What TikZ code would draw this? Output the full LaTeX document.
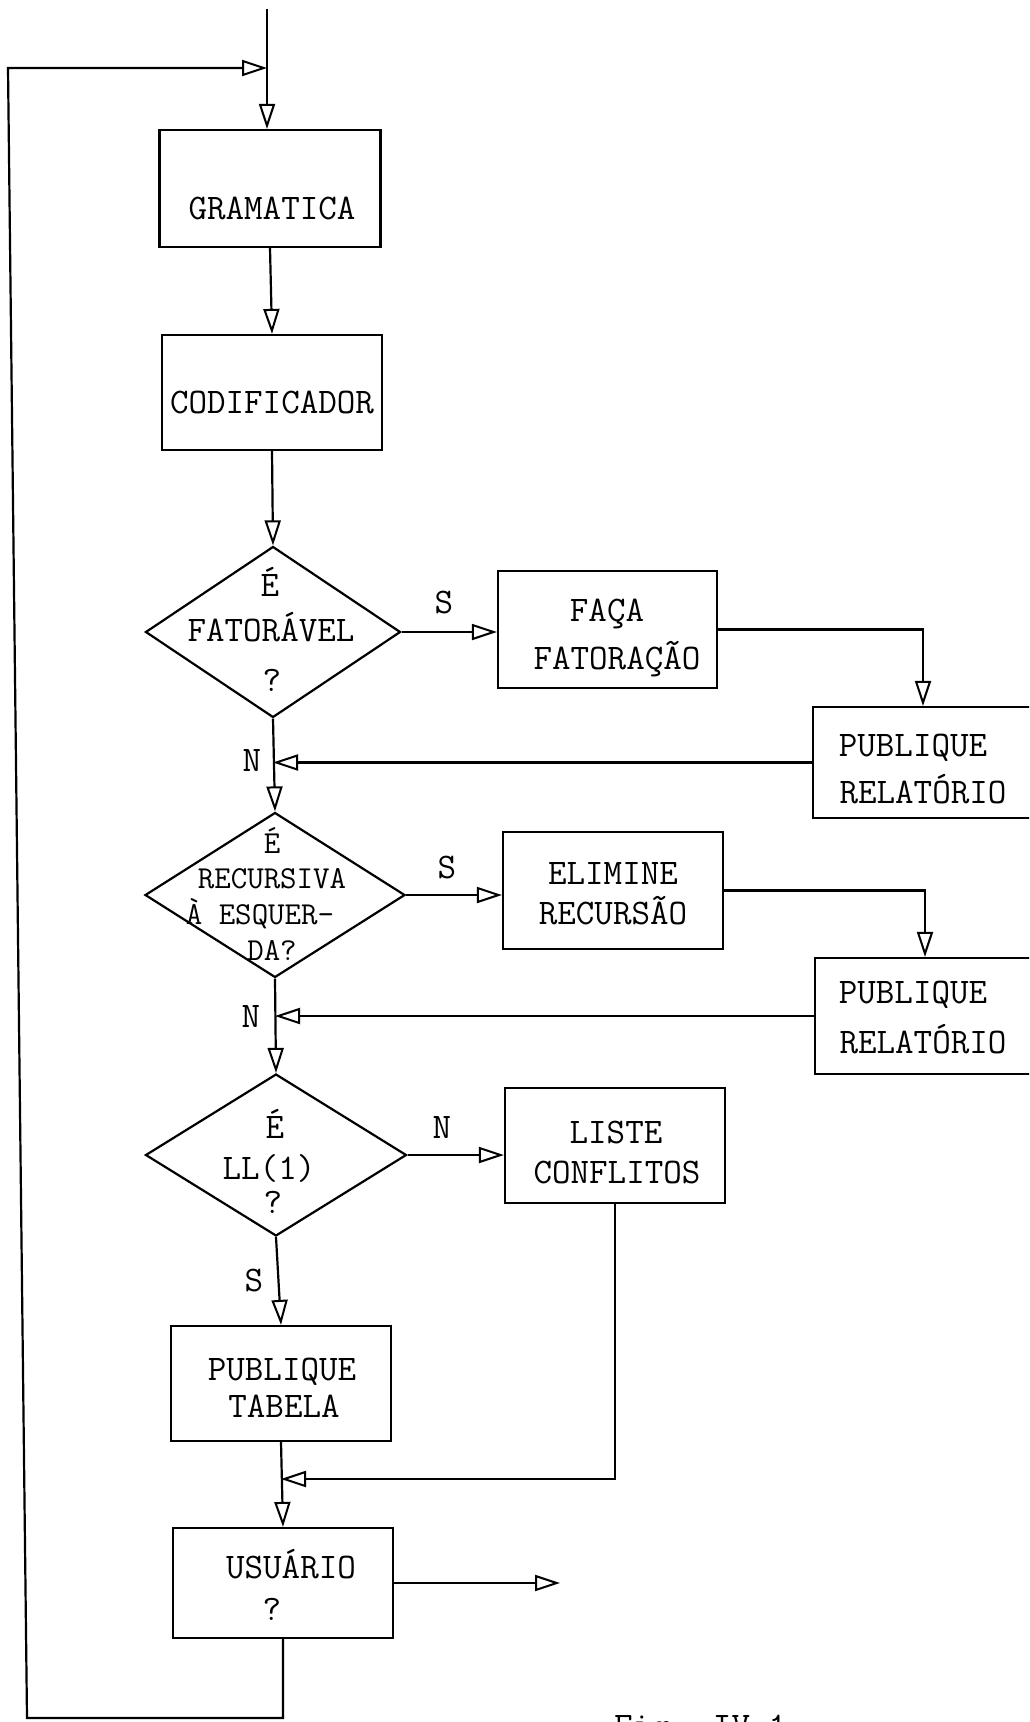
\documentclass[tikz,border=0pt]{standalone}
\usetikzlibrary{arrows.meta,shapes.geometric}
\begin{document}
\begin{tikzpicture}[x=1pt,y=-1pt,
  line width=2.2pt,
  box/.style={draw, rectangle, inner sep=0pt, line width=2.2pt},
  dec/.style={draw, diamond, inner sep=0pt, line width=2.2pt},
  txt/.style={inner sep=0pt, font=\fontsize{36}{40}\selectfont\ttfamily, text height=22pt, text depth=0pt},
  stxt/.style={txt, font=\fontsize{32}{36}\selectfont\ttfamily, text height=19.5pt},
  flow/.style={-{Triangle[open,length=25pt,width=16pt,line width=2pt]}}
]
\clip (0,0) rectangle (1029,1722);
\fill[white] (0,0) rectangle (1029,1722);

% boxes
\node[box, minimum width=221pt, minimum height=117pt] (gram) at (270,188.5) {};
\node[box, minimum width=220pt, minimum height=115pt] (cod) at (272,392.5) {};
\node[dec, minimum width=255pt, minimum height=171pt] (d1) at (273,632) {};
\node[box, minimum width=219pt, minimum height=117pt] (faca) at (607.5,629.5) {};
\node[box, minimum width=220pt, minimum height=111pt] (pub1) at (923,762.5) {};
\node[dec, minimum width=260pt, minimum height=165pt] (d2) at (275,895) {};
\node[box, minimum width=220pt, minimum height=117pt] (elim) at (613,890.5) {};
\node[box, minimum width=220pt, minimum height=116pt] (pub2) at (925,1016) {};
\node[dec, minimum width=261pt, minimum height=162pt] (d3) at (276,1155) {};
\node[box, minimum width=220pt, minimum height=115pt] (liste) at (615,1145.5) {};
\node[box, minimum width=220pt, minimum height=115pt] (ptab) at (281,1383.5) {};
\node[box, minimum width=220pt, minimum height=110pt] (usu) at (283,1583) {};

% texts
\node[txt] (t-gram) at (272,208) {GRAMATICA};
\node[txt] (t-cod) at (272,402) {CODIFICADOR};
\node[txt] (t-d1a) at (270,585) {É};
\node[txt] (t-d1b) at (271,630) {FATORÁVEL};
\node[txt] (t-d1c) at (272,680) {?};
\node[txt] (t-faa) at (607,610) {FAÇA};
\node[txt] (t-fab) at (617,658) {FATORAÇÃO};
\node[txt] (t-p1a) at (913,745) {PUBLIQUE};
\node[txt] (t-p1b) at (923,792) {RELATÓRIO};
\node[stxt] (t-d2a) at (272,844) {É};
\node[stxt] (t-d2b) at (272,879) {RECURSIVA};
\node[stxt] (t-d2c) at (260,915) {À ESQUER-};
\node[stxt] (t-d2d) at (272,951) {DA?};
\node[txt] (t-ela) at (613,873) {ELIMINE};
\node[txt] (t-elb) at (613,913) {RECURSÃO};
\node[txt] (t-p2a) at (913,992) {PUBLIQUE};
\node[txt] (t-p2b) at (923,1042) {RELATÓRIO};
\node[txt] (t-d3a) at (275,1127) {É};
\node[txt] (t-d3b) at (269,1168) {LL(1)};
\node[txt] (t-d3c) at (273,1202) {?};
\node[txt] (t-lia) at (616,1132) {LISTE};
\node[txt] (t-lib) at (617,1172) {CONFLITOS};
\node[txt] (t-pta) at (282,1369) {PUBLIQUE};
\node[txt] (t-ptb) at (284,1406) {TABELA};
\node[txt] (t-usa) at (291,1567) {USUÁRIO};
\node[txt] (t-usb) at (272,1609) {?};

% branch labels
\node[txt] (s1) at (444,602) {S};
\node[txt] (n1) at (252,760) {N};
\node[txt] (s2) at (447,867) {S};
\node[txt] (n2) at (251,1016) {N};
\node[txt] (n3) at (442,1127) {N};
\node[txt] (s3) at (254,1280) {S};

% caption (cut by the page edge, as in the reference)
\node[txt, anchor=base west, text height=, text depth=] (cap) at (613,1737) {Fig. IV.1};

% coordinates
\coordinate (top) at (267,9);
\coordinate (j0) at (267,68);
\coordinate (ltop) at (8,68);
\coordinate (lbot) at (27,1718);
\coordinate (m3) at (281,1479);
\coordinate (exit) at (560,1583);

% connectors
\draw[flow] (top) -- (j0) -- (gram.north -| j0);
\draw[flow] (usu.south) -- (usu.south |- lbot) -- (lbot) -- (ltop) -- (j0);
\draw[flow] (gram.south) -- (cod.north);
\draw[flow] (cod.south) -- (d1.north);
\draw[flow] (d1.east) -- (d1.east -| faca.west);
\draw[flow] (faca.east) -| (pub1.north);
\draw[flow] (pub1.west) -- (pub1.west -| d1.south);
\draw[flow] (d1.south) -- (d2.north);
\draw[flow] (d2.east) -- (d2.east -| elim.west);
\draw[flow] (elim.east) -| (pub2.north);
\draw[flow] (pub2.west) -- (pub2.west -| d2.south);
\draw[flow] (d2.south) -- (d3.north);
\draw[flow] (d3.east) -- (d3.east -| liste.west);
\draw[flow] (d3.south) -- (ptab.north);
\draw[flow] (ptab.south) -- (usu.north);
\draw[flow] (liste.south) -- (liste.south |- m3) -- (m3);
\draw[flow] (usu.east) -- (exit);
\end{tikzpicture}
\end{document}
